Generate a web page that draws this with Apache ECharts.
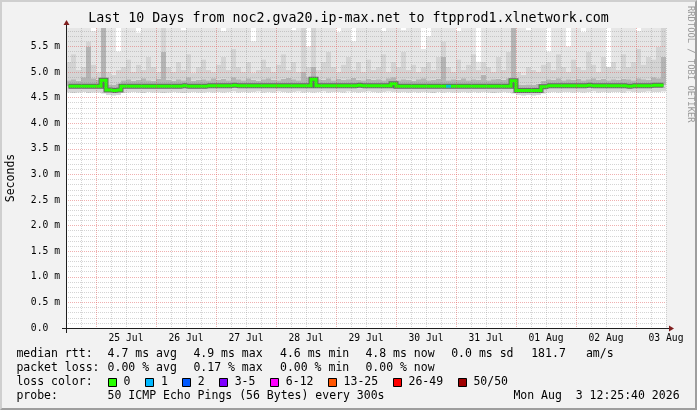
<!DOCTYPE html>
<html><head><meta charset="utf-8">
<script src="https://cdn.jsdelivr.net/npm/echarts@6/dist/echarts.min.js"></script>
<style>
html,body{margin:0;padding:0;background:#f2f2f2}
#wrap{position:relative;width:697px;height:410px}
#c{width:697px;height:410px}
#frame{position:absolute;left:0;top:0;width:697px;height:410px;box-sizing:border-box;border:2px solid;border-color:#cfcfcf #9e9e9e #9e9e9e #cfcfcf;pointer-events:none}
</style></head><body>
<div id="wrap"><div id="c"></div><div id="frame"></div></div>
<script>
// ---- data (ms), 120 columns of 2 hours each, from Jul 24 12:00 to Aug 3 12:00 ----
const dayLabels = ['25 Jul','26 Jul','27 Jul','28 Jul','29 Jul','30 Jul','31 Jul','01 Aug','02 Aug','03 Aug'];
const yTickLabels = ['0.0  ','0.5 m','1.0 m','1.5 m','2.0 m','2.5 m','3.0 m','3.5 m','4.0 m','4.5 m','5.0 m','5.5 m'];

const median = [
 4.72,4.72,4.72,4.72,4.72,4.72,4.72,4.84,4.65,4.64,
 4.65,4.72,4.72,4.72,4.72,4.72,4.72,4.72,4.72,4.72,
 4.72,4.72,4.72,4.73,4.72,4.72,4.72,4.72,4.73,4.73,
 4.73,4.73,4.73,4.74,4.73,4.73,4.73,4.73,4.73,4.73,
 4.73,4.73,4.73,4.73,4.73,4.73,4.73,4.73,4.73,4.86,
 4.73,4.73,4.73,4.73,4.73,4.73,4.73,4.73,4.74,4.73,
 4.73,4.73,4.73,4.73,4.73,4.77,4.72,4.72,4.72,4.72,
 4.72,4.72,4.72,4.72,4.72,4.72,4.72,4.72,4.72,4.72,
 4.72,4.72,4.72,4.72,4.72,4.72,4.72,4.72,4.72,4.83,
 4.64,4.64,4.64,4.64,4.64,4.71,4.73,4.73,4.73,4.73,
 4.73,4.73,4.73,4.73,4.74,4.73,4.73,4.73,4.73,4.73,
 4.73,4.73,4.72,4.73,4.73,4.73,4.73,4.74,4.74,4.74];

const smokeLow = [
 4.60,4.59,4.60,4.61,4.59,4.60,4.60,4.58,4.55,4.54,
 4.55,4.59,4.60,4.61,4.60,4.59,4.61,4.60,4.60,4.59,
 4.60,4.61,4.60,4.59,4.60,4.61,4.60,4.60,4.61,4.60,
 4.61,4.60,4.61,4.62,4.60,4.61,4.60,4.61,4.62,4.60,
 4.61,4.60,4.62,4.61,4.60,4.61,4.62,4.60,4.61,4.60,
 4.61,4.62,4.60,4.61,4.61,4.60,4.62,4.61,4.60,4.61,
 4.62,4.61,4.60,4.61,4.62,4.61,4.60,4.61,4.60,4.61,
 4.60,4.61,4.60,4.59,4.61,4.60,4.61,4.60,4.60,4.61,
 4.60,4.61,4.60,4.61,4.60,4.59,4.60,4.61,4.60,4.58,
 4.55,4.54,4.55,4.54,4.55,4.58,4.60,4.61,4.60,4.61,
 4.61,4.60,4.61,4.60,4.61,4.62,4.60,4.61,4.60,4.61,
 4.61,4.60,4.62,4.61,4.60,4.61,4.62,4.61,4.61,4.62];

const smokeDark = [
 4.84,4.86,4.83,4.90,5.50,4.88,4.85,6.00,4.76,4.75,
 4.78,4.84,4.86,4.83,4.85,4.88,4.84,4.83,4.87,5.40,
 4.85,4.83,4.86,4.84,4.90,4.83,4.85,4.86,4.84,4.88,
 4.85,4.87,4.84,4.90,4.86,4.84,4.88,4.85,4.83,4.86,
 4.88,4.85,4.84,4.87,4.89,4.86,4.84,5.00,4.90,5.10,
 4.86,4.85,4.88,4.84,4.87,4.85,4.86,4.89,4.85,4.84,
 4.87,4.85,4.86,4.84,4.88,4.90,4.84,4.86,4.85,4.83,
 4.86,4.88,4.84,4.85,4.87,5.30,4.84,4.86,4.85,4.88,
 4.84,4.86,4.85,4.95,4.84,4.86,4.87,4.85,4.88,6.00,
 4.76,4.75,4.76,4.75,4.77,4.83,4.86,4.85,4.88,4.84,
 4.86,4.85,4.87,4.84,4.86,4.88,4.85,4.87,4.84,4.86,
 4.85,4.87,4.86,4.84,4.88,4.86,4.85,4.90,4.88,5.30];

const smokeMid = [
 5.20,5.35,5.05,5.10,5.60,5.15,5.00,6.00,5.00,4.95,
 5.05,5.10,5.25,5.00,5.15,5.05,5.30,5.10,5.00,6.00,
 5.10,5.00,5.20,5.05,5.35,4.98,5.10,5.25,5.05,5.00,
 5.15,5.30,5.05,5.45,5.10,5.00,5.20,4.98,5.05,5.25,
 5.10,5.00,5.15,5.35,5.05,5.20,5.00,5.86,5.10,6.00,
 5.05,5.20,5.40,5.10,5.00,5.15,5.30,5.05,5.20,5.00,
 5.25,5.05,5.10,5.35,5.00,5.20,5.10,5.40,5.05,5.15,
 5.00,5.10,5.20,5.05,5.30,5.60,5.10,5.00,5.25,5.05,
 5.15,5.35,5.05,5.20,5.10,5.00,5.30,5.05,5.40,6.00,
 5.00,4.95,5.10,5.05,5.00,5.15,5.20,5.05,5.35,5.10,
 5.00,5.25,5.10,5.05,5.40,5.15,5.00,5.30,5.10,5.20,
 5.05,5.35,5.10,5.20,5.45,5.15,5.30,5.25,5.50,6.00];

const smokeHigh = [
 6.00,6.00,6.00,6.00,6.00,5.80,6.00,6.00,6.00,6.00,
 5.40,6.00,6.00,6.00,5.77,6.00,6.00,6.00,6.00,6.00,
 6.00,6.00,6.00,5.82,6.00,6.00,6.00,6.00,6.00,6.00,
 6.00,5.80,6.00,6.00,6.00,6.00,6.00,5.60,6.00,6.00,
 6.00,6.00,6.00,6.00,6.00,5.82,6.00,6.00,5.50,6.00,
 6.00,6.00,6.00,6.00,5.78,6.00,6.00,5.60,6.00,6.00,
 6.00,6.00,6.00,5.80,6.00,6.00,6.00,5.82,6.00,6.00,
 6.00,5.45,5.70,6.00,6.00,6.00,6.00,6.00,5.80,6.00,
 6.00,6.00,5.20,6.00,6.00,6.00,6.00,6.00,6.00,6.00,
 6.00,6.00,5.82,6.00,6.00,6.00,5.40,6.00,6.00,6.00,
 5.50,6.00,6.00,5.78,6.00,6.00,6.00,6.00,5.05,6.00,
 6.00,6.00,6.00,6.00,5.80,6.00,6.00,6.00,6.00,6.00];

const lossCount = [
 0,0,0,0,0,0,0,0,0,0, 0,0,0,0,0,0,0,0,0,0,
 0,0,0,0,0,0,0,0,0,0, 0,0,0,0,0,0,0,0,0,0,
 0,0,0,0,0,0,0,0,0,0, 0,0,0,0,0,0,0,0,0,0,
 0,0,0,0,0,0,0,0,0,0, 0,0,0,0,0,0,1,0,0,0,
 0,0,0,0,0,0,0,0,0,0, 0,0,0,0,0,0,0,0,0,0,
 0,0,0,0,0,0,0,0,0,0, 0,0,0,0,0,0,0,0,0,0];

const lossLabels = ['0','1','2','3-5','6-12','13-25','26-49','50/50'];
const lossFrom   = [0,1,2,3,6,13,26,50];
const lossColors = ['#26ff00','#00b8ff','#0059ff','#7e00ff','#ff00ff','#ff5500','#ff0000','#a00000'];

// ---- build ----
const MONO = '"DejaVu Sans Mono", monospace';
const cats = median.map((_, i) => i);
const levels = [smokeLow, median, smokeDark, smokeMid, smokeHigh];
const cum = [];
levels.forEach((arr, j) => {
  cum.push(arr.map((v, i) => j === 0 ? v : Math.max(v, cum[j-1][i])));
});
const bands = cum.map((arr, j) => arr.map((v, i) => j === 0 ? v : +(v - cum[j-1][i]).toFixed(4)));
const bandColors = ['rgba(0,0,0,0)', '#d6d6d6', '#b4b4b4', '#d4d4d4', '#e6e6e6'];

function bucket(l){ let b = 0; lossFrom.forEach((f, k) => { if (l >= f) b = k; }); return b; }

const series = bands.map((d, j) => ({
  type: 'bar', xAxisIndex: 1, yAxisIndex: 0, stack: 'smoke', data: d,
  barCategoryGap: '0%', itemStyle: { color: bandColors[j] },
  silent: true, emphasis: { disabled: true }, animation: false
}));
series.push({
  type: 'line', xAxisIndex: 1, data: median, step: 'middle', symbol: 'none',
  lineStyle: { color: '#666666', width: 5, join: 'miter', cap: 'butt' }, silent: true, animation: false, z: 3
});
series.push({
  type: 'line', xAxisIndex: 1, data: median, step: 'middle', symbol: 'none',
  lineStyle: { color: lossColors[0], width: 3, join: 'miter', cap: 'butt' }, silent: true, animation: false, z: 4
});
for (let b = 1; b < lossColors.length; b++) {
  const pts = [];
  lossCount.forEach((l, i) => { if (l > 0 && bucket(l) === b) pts.push([i, median[i]]); });
  if (pts.length) series.push({
    type: 'scatter', xAxisIndex: 1, data: pts, symbol: 'rect', symbolSize: [5, 3],
    itemStyle: { color: lossColors[b] }, silent: true, animation: false, z: 5
  });
}

const gray = 'rgba(143,143,143,0.38)', red = 'rgba(222,79,79,0.45)';

const gfx = [];
function txt(x, y, s) {
  gfx.push({ type: 'text', z: 100, style: { text: s, x: x, y: y,
    font: '11.5px ' + MONO, fill: '#000', textVerticalAlign: 'middle' } });
}
// axes lines + arrows
gfx.push({ type: 'line', z: 100, shape: { x1: 62, y1: 328.5, x2: 670, y2: 328.5 }, style: { stroke: '#1f1f1f', lineWidth: 1 } });
gfx.push({ type: 'line', z: 100, shape: { x1: 66.5, y1: 333, x2: 66.5, y2: 25 }, style: { stroke: '#1f1f1f', lineWidth: 1 } });
gfx.push({ type: 'polygon', z: 101, shape: { points: [[669, 325.5], [674, 328.5], [669, 331.5]] }, style: { fill: '#801f1f' } });
gfx.push({ type: 'polygon', z: 101, shape: { points: [[63.5, 25], [66.5, 20], [69.5, 25]] }, style: { fill: '#801f1f' } });

// legend
txt(16.4, 354.5, 'median rtt:');
txt(107.6, 354.5, '4.7 ms avg'); txt(193.4, 354.5, '4.9 ms max'); txt(280, 354.5, '4.6 ms min');
txt(365.4, 354.5, '4.8 ms now'); txt(451.2, 354.5, '0.0 ms sd'); txt(531.2, 354.5, '181.7'); txt(585.9, 354.5, 'am/s');
txt(16.4, 368.5, 'packet loss:');
txt(107.6, 368.5, '0.00 % avg'); txt(193.4, 368.5, '0.17 % max'); txt(280, 368.5, '0.00 % min'); txt(365.4, 368.5, '0.00 % now');
txt(16.4, 382.5, 'loss color:');
const boxX = [108, 145.3, 182.2, 219.1, 270.2, 328, 392.9, 457.8];
lossLabels.forEach((l, k) => {
  gfx.push({ type: 'rect', z: 100, shape: { x: Math.round(boxX[k]) + 0.5, y: 378.5, width: 8, height: 8 },
    style: { fill: lossColors[k], stroke: '#000', lineWidth: 1 } });
  txt(boxX[k] + 15.6, 382.5, l);
});
txt(16.4, 396.5, 'probe:');
txt(107.6, 396.5, '50 ICMP Echo Pings (56 Bytes) every 300s');
txt(513.4, 396.5, 'Mon Aug  3 12:25:40 2026');
// watermark
gfx.push({ type: 'text', z: 100, x: 690.5, y: 6, rotation: -Math.PI / 2,
  style: { text: 'RRDTOOL / TOBI OETIKER', x: 0, y: 0, font: '8.8px ' + MONO, fill: '#999999',
    textAlign: 'left', textVerticalAlign: 'middle' } });

const chart = echarts.init(document.getElementById('c'), null, { renderer: 'canvas' });
chart.setOption({
  backgroundColor: '#f2f2f2',
  animation: false,
  title: {
    text: 'Last 10 Days from noc2.gva20.ip-max.net to ftpprod1.xlnetwork.com',
    left: 'center', top: 12.5, padding: 0,
    textStyle: { fontFamily: MONO, fontSize: 13.3, fontWeight: 'normal', color: '#000' }
  },
  grid: { left: 66, top: 28, width: 600, height: 300, show: true, backgroundColor: '#fff', borderWidth: 0,
    containLabel: false, outerBoundsMode: 'none' },
  xAxis: [{
    type: 'value', min: -12, max: 228, interval: 6, z: 6,
    axisLine: { show: false }, axisTick: { show: false },
    axisLabel: { show: true, margin: 5, fontFamily: MONO, fontSize: 9.7, color: '#000',
      showMinLabel: true, showMaxLabel: true, hideOverlap: false,
      formatter: v => { const h = Math.round(v); if (h < 12 || (h - 12) % 24 !== 0) return ''; return dayLabels[(h - 12) / 24] || ''; } },
    splitLine: { show: true, lineStyle: { color: [gray, gray, red, gray], width: 1, type: [1, 1] } }
  }, {
    type: 'category', data: cats, show: false, boundaryGap: true,
    axisLine: { show: false }, splitLine: { show: false }
  }],
  yAxis: [{
    type: 'value', min: 0, max: 5.86, interval: 0.1, z: 6,
    name: 'Seconds', nameLocation: 'middle', nameRotate: 90, nameGap: 49,
    nameTextStyle: { fontFamily: MONO, fontSize: 11.5, color: '#000' },
    axisLine: { show: false }, axisTick: { show: false },
    axisLabel: { margin: 6, fontFamily: MONO, fontSize: 9.7, color: '#000', hideOverlap: false,
      formatter: v => { const k = Math.round(v * 10); if (Math.abs(v * 10 - k) > 1e-6 || k % 5 !== 0) return ''; return yTickLabels[k / 5] || ''; } },
    splitLine: { show: true, showMaxLine: false, lineStyle: { color: [red, gray, gray, gray, gray], width: 1, type: [1, 1] } }
  }],
  series: series,
  graphic: gfx
});
</script>
</body></html>
